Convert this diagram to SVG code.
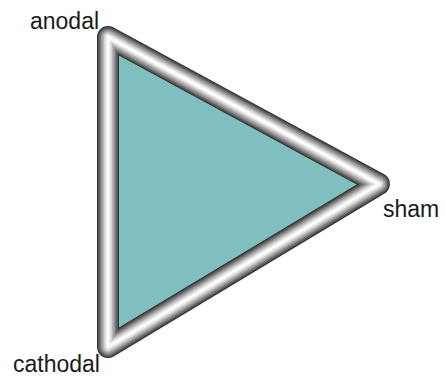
<svg xmlns="http://www.w3.org/2000/svg" width="445" height="379" viewBox="0 0 445 379">
<style>
.lbl{font-family:"Liberation Sans",Arial,sans-serif;font-size:23px;fill:#1a1a1a}
.t{fill:none;stroke-linejoin:round;stroke-linecap:round}
</style>
<defs>
<polygon id="tri" points="108,37 379,184 108,347"/>
</defs>
<rect width="445" height="379" fill="#fff"/>
<g id="area">
<use href="#tri" fill="#7fbfbf"/>
</g>
<g id="connectors">
<use href="#tri" class="t" stroke="#333" stroke-width="22"/>
<use href="#tri" class="t" stroke="#555" stroke-width="20"/>
<use href="#tri" class="t" stroke="#767676" stroke-width="17"/>
<use href="#tri" class="t" stroke="#979797" stroke-width="14"/>
<use href="#tri" class="t" stroke="#b6b6b6" stroke-width="11"/>
<use href="#tri" class="t" stroke="#d4d4d4" stroke-width="8"/>
<use href="#tri" class="t" stroke="#ededed" stroke-width="5"/>
<use href="#tri" class="t" stroke="#fff" stroke-width="2"/>
</g>
<g id="anodal"><text class="lbl" x="30" y="29">anodal</text></g>
<g id="sham"><text class="lbl" x="383" y="217">sham</text></g>
<g id="cathodal"><text class="lbl" x="13" y="372">cathodal</text></g>
</svg>
